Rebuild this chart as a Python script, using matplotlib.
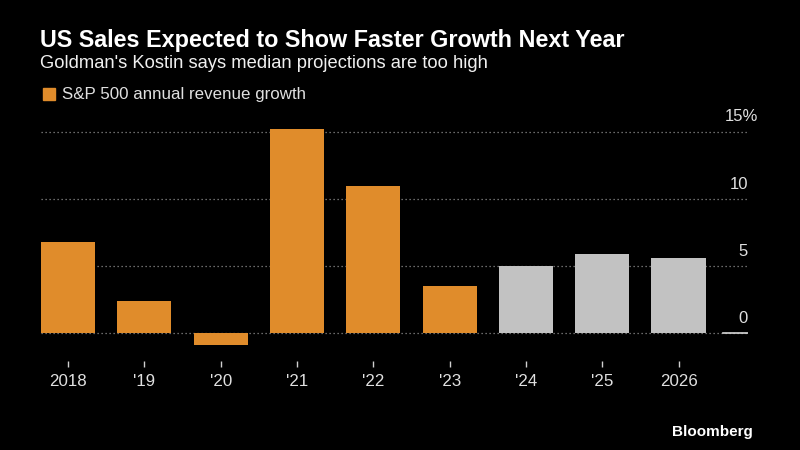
import matplotlib
matplotlib.use('Agg')
import matplotlib.pyplot as plt
from matplotlib.patches import Patch

# data
years = ['2018', "'19", "'20", "'21", "'22", "'23", "'24", "'25", '2026']
growth = [6.8, 2.4, -0.85, 15.2, 11.0, 3.5, 5.0, 5.9, 5.6]
is_estimate = [False, False, False, False, False, False, True, True, True]
y_ticks = [0, 5, 10, 15]
y_tick_labels = ['0', '5', '10', '15%']

orange = '#e08c2b'
grey = '#c2c2c2'
fonts = ['Liberation Sans', 'DejaVu Sans']

W, H = 800, 450
px = 0.72  # points per pixel at dpi 100

fig = plt.figure(figsize=(8, 4.5), dpi=100, facecolor='black')
ax = fig.add_axes([41 / W, 1 - 349.4 / H, (748 - 41) / W, (349.4 - 126.6) / H])
ax.set_facecolor('black')

colors = [grey if e else orange for e in is_estimate]
xpos = list(range(len(years)))
ax.bar(xpos, growth, width=0.71, color=colors, zorder=2)
ax.set_xlim(-0.355, 8.91)
ax.set_ylim(-1.2, 15.4)

# dotted gridlines + labels sitting above them on the right
for t, lab in zip(y_ticks, y_tick_labels):
    ax.axhline(t, color='#8c8c8c', lw=0.9, ls=(0, (1, 2.2)), zorder=1)
    ax.annotate(lab, xy=(1.0, t), xycoords=ax.get_yaxis_transform(),
                xytext=(10 * px if lab.endswith('%') else 0, 15 * px), textcoords='offset points',
                ha='right', va='center', color='#e0e0e0', fontsize=12, family=fonts)
# short solid zero line on the right
ax.axhline(0, xmin=(723 - 41) / (748 - 41), xmax=1, color='#d8d8d8', lw=1.2, zorder=3)

ax.set_yticks([])
ax.set_xticks(xpos, years)
for s in ['left', 'right', 'top']:
    ax.spines[s].set_visible(False)
ax.spines['bottom'].set_position(('outward', 11.3 * px))
ax.spines['bottom'].set_visible(False)
ax.tick_params(axis='x', length=6 * px, width=1, color='#cfcfcf', pad=5,
               labelcolor='#e0e0e0', labelsize=12.2)
for lbl in ax.get_xticklabels():
    lbl.set_family(fonts)

# header
fig.text(40 / W, 1 - 40 / H, 'US Sales Expected to Show Faster Growth Next Year',
         color='white', fontsize=16.8, weight='bold', family=fonts, va='center')
fig.text(40 / W, 1 - 63 / H, "Goldman's Kostin says median projections are too high",
         color='#f0f0f0', fontsize=13.2, family=fonts, va='center')
fig.legend(handles=[Patch(color=orange, label='S&P 500 annual revenue growth')],
           loc='center left', bbox_to_anchor=(43 / W, 1 - 95 / H), frameon=False,
           borderaxespad=0, borderpad=0,
           handlelength=0.72, handleheight=0.72, handletextpad=0.42,
           prop={'family': fonts, 'size': 12.2}, labelcolor='#e0e0e0')

fig.text(753 / W, 1 - 432 / H, 'Bloomberg', color='white', fontsize=11, weight='bold',
         family=fonts, ha='right', va='center')

fig.savefig('out.png', dpi=100, facecolor='black')
